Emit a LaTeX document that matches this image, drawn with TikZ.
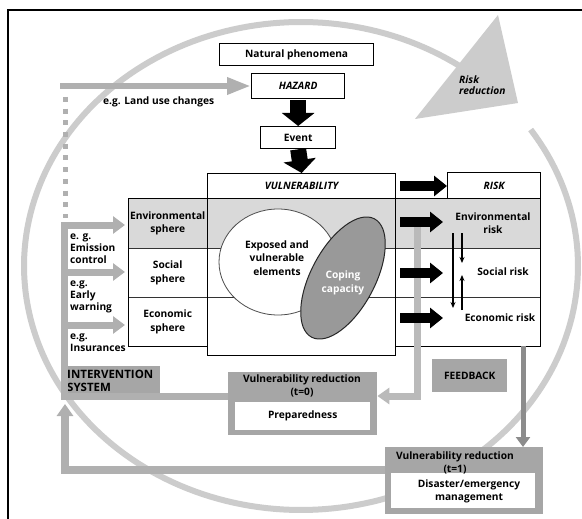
\documentclass[tikz,border=0pt]{standalone}
\usepackage{fontspec}
\setmainfont{Open Sans}
\usetikzlibrary{arrows.meta,shapes.geometric}
\definecolor{circ}{gray}{0.80}
\definecolor{bandc}{gray}{0.85}
\definecolor{gboxc}{gray}{0.65}
\definecolor{garr}{gray}{0.69}
\definecolor{garrl}{gray}{0.73}
\definecolor{dgarr}{gray}{0.55}
\definecolor{copec}{gray}{0.60}
\newcommand\myfs{\fontsize{10.2}{13.5}\selectfont}
\begin{document}
\begin{tikzpicture}[x=1pt,y=-1pt,
  every node/.style={font=\bfseries\myfs, inner sep=0pt},
  box/.style={draw, line width=1.3pt, fill=white, anchor=north west},
  gbox/.style={fill=gboxc, anchor=north west},
  wbox/.style={fill=white, anchor=north west},
  txt/.style={align=center},
  ltxt/.style={align=left, anchor=west, font=\bfseries\fontsize{10.2}{11.8}\selectfont},
  blkv/.style={line width=16pt, -{Triangle[length=13pt,width=32pt]}},
  blkh/.style={line width=10pt, -{Triangle[length=13pt,width=20pt]}},
  thinarr/.style={line width=1.2pt, -{Stealth[length=6pt,width=5pt]}},
  garrow/.style={garr, line width=7pt, -{Triangle[length=12pt,width=17pt]}},
  rowline/.style={line width=0.8pt, black!80}
]
\useasboundingbox (0,0) rectangle (582,519);
\fill[white] (0,0) rectangle (582,519);
% outer frame
\draw[line width=1.3pt] (8,519) -- (8,10) -- (582,10);
% big cycle
\draw[circ, line width=6pt] plot[domain=-55:-394, samples=200, variable=\t] ({301+277*cos(\t)},{266+244*sin(\t)});
\fill[circ] (498,15) -- (415,119) -- (518,103) -- cycle;
\node[align=left, anchor=west, font=\bfseries\itshape\fontsize{10.2}{11.5}\selectfont] (rr) at (459,85) {Risk\\reduction};

% top chain
\node[box, minimum width=154pt, minimum height=22pt] (nat) at (219,43) {Natural phenomena};
\node[box, minimum width=93pt, minimum height=25pt, font=\bfseries\itshape\myfs] (haz) at (251,73) {HAZARD};
\node[box, minimum width=75pt, minimum height=22pt] (ev) at (260,126) {Event};
\draw[blkv] ([yshift=-1pt]haz.south) -- (ev.north);

% land use arrow
\coordinate (lu0) at (60,86);
\coordinate (dot0) at (65,97);
\coordinate (dot1) at (65,218);

% central structure
\fill[white] (128,198) rectangle (540,355);
\fill[bandc] (128,198) rectangle (540,248);
\draw[rowline] (128,248) -- (540,248);
\draw[rowline] (128,297) -- (540,297);
\node[ellipse, draw=black!70, line width=0.8pt, fill=white, minimum width=118pt, minimum height=106pt] (expo) at (278,262) {};
\node[ellipse, draw=black!85, line width=1pt, fill=copec, minimum width=134pt, minimum height=64pt, rotate=62] (cope) at (343,278) {};
\node[txt] (expot) at (277,258) {Exposed and\\vulnerable\\elements};
\node[txt, text=white] (copet) at (343,283) {Coping\\capacity};

\node[draw, line width=1.3pt, anchor=north west, minimum width=188pt, minimum height=182pt] (vul) at (207,173) {};
\node[box, minimum width=188pt, minimum height=25pt, font=\bfseries\itshape\myfs] (vulh) at (207,173) {VULNERABILITY};
\node[draw, line width=1.3pt, anchor=north west, minimum width=79pt, minimum height=148pt] (lcol) at (128,198) {};
\node[draw, line width=1.3pt, anchor=north west, minimum width=145pt, minimum height=148pt] (rcol) at (395,198) {};
\node[box, minimum width=93pt, minimum height=26pt, font=\bfseries\itshape\myfs] (risk) at (447,172) {RISK};

% sphere cells
\node[anchor=north west, minimum width=79pt, minimum height=50pt, txt] (envs) at (128,198) {Environmental\\sphere};
\node[anchor=north west, minimum width=79pt, minimum height=49pt, txt] (socs) at (128,248) {Social\\sphere};
\node[anchor=north west, minimum width=79pt, minimum height=49pt, txt] (ecos) at (128,297) {Economic\\sphere};

% risk texts
\node[txt] (envr) at (493,223) {Environmental\\risk};
\node[txt] (socr) at (503,272) {Social risk};
\node[txt] (ecor) at (500,318) {Economic risk};

% feedback grey bar from environmental risk
\coordinate (fbtop) at (417,224);
\coordinate (fbc) at (417,396);

% left intervention side
\coordinate (bartop) at (64,222);
\coordinate (barbot) at (64,396);
\node[ltxt] (eg1) at (70,249) {e. g.\\Emission\\control};
\node[ltxt] (eg2) at (70,297) {e.g.\\Early\\warning};
\node[ltxt] (eg3) at (70,343) {e.g.\\Insurances};
\node[gbox, minimum width=99pt, minimum height=31pt] (ints) at (61,366) {};
\node[align=left, anchor=north west, font=\bfseries\fontsize{11.5}{12.8}\selectfont] (intt) at (67,370) {INTERVENTION\\SYSTEM};

% vulnerability reduction t=0
\node[gbox, minimum width=149pt, minimum height=63pt] (t0) at (228,372) {};
\node[txt] (t0t) at (302,386) {Vulnerability reduction\\(t=0)};
\node[wbox, minimum width=135pt, minimum height=28pt] (prep) at (235,402) {Preparedness};

% feedback box
\node[gbox, minimum width=75pt, minimum height=33pt] (fb) at (432,359) {FEEDBACK};

% vulnerability reduction t=1
\node[gbox, minimum width=158pt, minimum height=67pt] (t1) at (385,447) {};
\node[wbox, minimum width=144pt, minimum height=35pt] (dis) at (391,473) {};
\node[txt, font=\bfseries\fontsize{10.2}{13}\selectfont] (t1t) at (455,463) {Vulnerability reduction\\(t=1)};
\node[txt, font=\bfseries\fontsize{10.2}{13}\selectfont] (dist) at (469,491) {Disaster/emergency\\management};

\coordinate (dgtop) at (523,346);
\coordinate (loopr) at (385,470);
\coordinate (loopc) at (65,470);
\coordinate (looptip) at (65,404);

% grey connectors
\draw[garr, line width=6pt, -{Triangle[length=24pt,width=16pt]}] (lu0) -- (haz.west |- lu0);
\draw[garr, line width=5pt, dash pattern=on 5pt off 6.7pt] (dot0) -- (dot1);
\draw[garr, line width=7pt] (bartop) -- (barbot);
\draw[garrow] (bartop |- 0,225) -- ([xshift=-3pt]envs.west |- 0,225);
\draw[garrow] (bartop |- 0,272) -- ([xshift=-3pt]socs.west |- 0,272);
\draw[garrow] (bartop |- 0,325) -- ([xshift=-3pt]ecos.west |- 0,325);
\draw[garr, line width=7pt] (ints.south west |- 0,396.5) -- (t0.west |- 0,396.5);
\draw[garrl, line width=7pt, -{Triangle[length=12pt,width=16pt]}] (fbtop) -- (fbc) -- (t0.east |- fbc);
\draw[dgarr, line width=5pt, -{Triangle[length=10pt,width=14pt]}] (dgtop) -- (t1.north -| dgtop);
\draw[garr, line width=8pt, -{Triangle[length=12pt,width=16pt]}] (loopr) -- (loopc) -- (looptip);

% black arrows
\draw[blkv] (ev.south) -- (vulh.north);
\draw[blkh] (400,186) coordinate (h0) -- (risk.west |- h0);
\draw[blkh] (400,222) coordinate (h1) -- (443,222);
\draw[blkh] (400,273) coordinate (h2) -- (443,273);
\draw[blkh] (400,318) coordinate (h3) -- (443,318);
\draw[thinarr] (453,233) coordinate (ta0) -- (453,308);
\draw[thinarr] (462,233) coordinate (ta1) -- (462,263);
\draw[thinarr] (462,310) coordinate (ta2) -- (462,275);

\node[anchor=west] (lut) at (103,102) {e.g. Land use changes};
\end{tikzpicture}
\end{document}
